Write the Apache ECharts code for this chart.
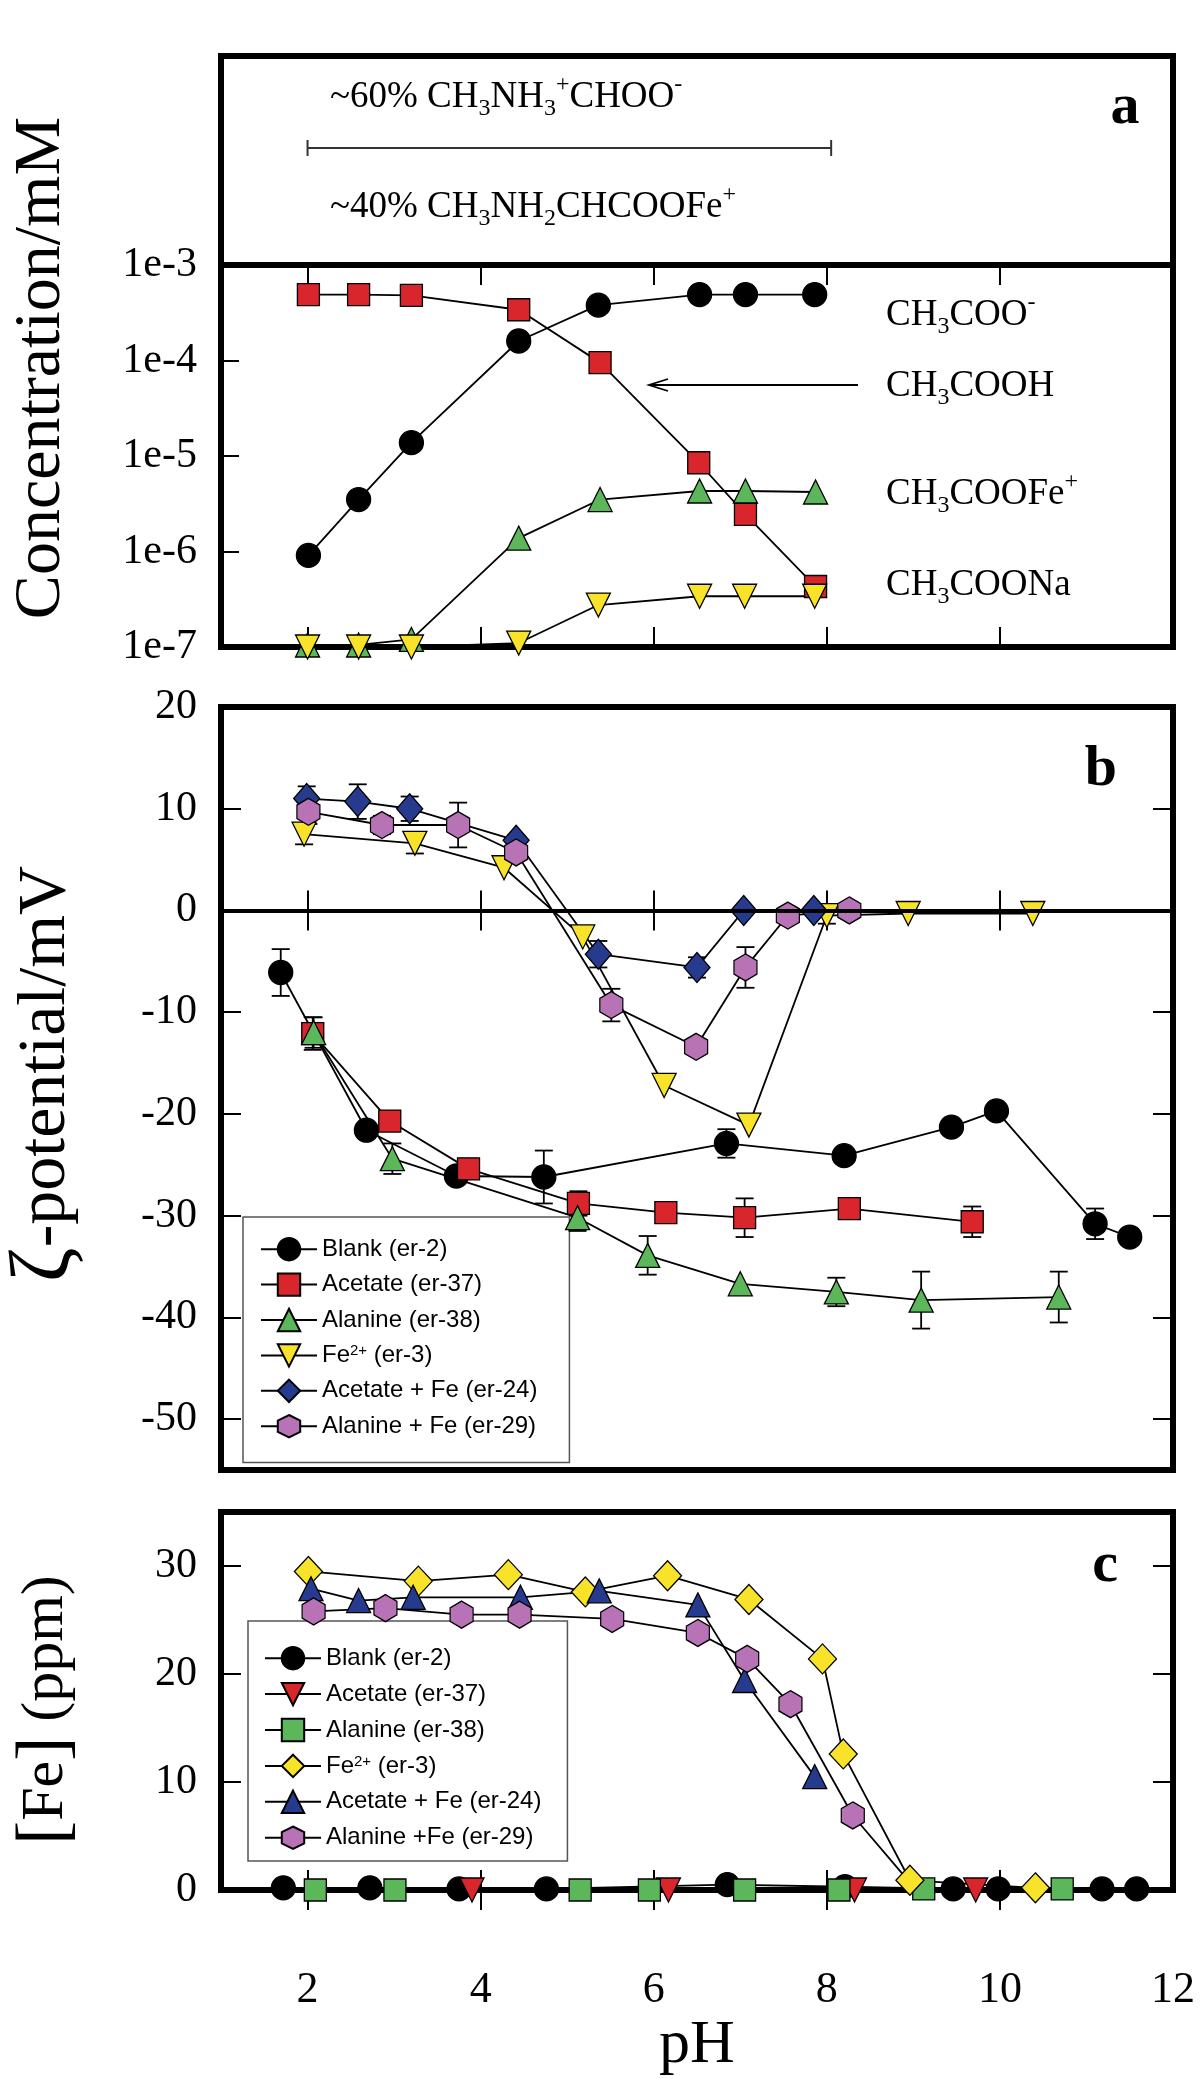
<!DOCTYPE html>
<html><head><meta charset="utf-8">
<script src="https://cdn.jsdelivr.net/npm/echarts@6/dist/echarts.min.js"></script>
<style>html,body{margin:0;padding:0;background:#fff}#c{width:1200px;height:2079px}</style>
</head><body><div id="c"></div><script>
// ---------------- DATA ----------------
const xTickValues = [2, 4, 6, 8, 10];
const xLabelValues = [2, 4, 6, 8, 10, 12];
const bLabelValues = [-50, -40, -30, -20, -10, 0, 10, 20];
const cLabelValues = [0, 10, 20, 30];

// panel a : species concentration (mM) vs pH
const aCH3COOH = [[2.01,4.9e-4],[2.59,4.9e-4],[3.20,4.8e-4],[4.44,3.4e-4],[5.38,9.5e-5],[6.52,8.5e-6],[7.06,2.45e-6],[7.87,4.3e-7]];
const aCH3COO  = [[2.01,9.1e-7],[2.59,3.5e-6],[3.20,1.38e-5],[4.44,1.6e-4],[5.36,3.8e-4],[6.53,4.9e-4],[7.06,4.9e-4],[7.86,4.9e-4]];
const aCH3COOFe = [[2.00,1.05e-7],[2.59,1.05e-7],[3.20,1.2e-7],[4.44,1.38e-6],[5.38,3.5e-6],[6.53,4.3e-6],[7.06,4.3e-6],[7.87,4.2e-6]];
const aCH3COONa = [[2.00,1.0e-7],[2.59,1.0e-7],[3.20,1.0e-7],[4.44,1.1e-7],[5.36,2.75e-7],[6.53,3.4e-7],[7.05,3.4e-7],[7.86,3.4e-7]];
const boxBracket = [2.0, 8.05];

// panel b : zeta potential (mV) vs pH ; errors as [pH, value, half-width]
const bBlank = [[1.69,-6.1],[2.68,-21.6],[3.72,-26.1],[4.73,-26.2],[6.84,-22.9],[8.20,-24.1],[9.44,-21.3],[9.96,-19.7],[11.10,-30.8],[11.50,-32.1]];
const bBlankErr = [[1.69,-6.1,2.3],[4.73,-26.2,2.6],[6.84,-22.9,1.4],[8.20,-24.1,0.6],[11.10,-30.8,1.5]];
const bAcetate = [[2.06,-12.1],[2.95,-20.7],[3.86,-25.4],[5.13,-28.8],[6.14,-29.7],[7.05,-30.2],[8.26,-29.3],[9.68,-30.6]];
const bAcetateErr = [[2.06,-12.1,1.6],[2.95,-20.7,0.6],[3.86,-25.4,1.0],[5.13,-28.8,1.2],[7.05,-30.2,1.9],[8.26,-29.3,0.7],[9.68,-30.6,1.5]];
const bAlanine = [[2.07,-12.0],[2.98,-24.4],[5.12,-30.2],[5.93,-33.9],[7.00,-36.7],[8.11,-37.5],[9.09,-38.3],[10.68,-38.0]];
const bAlanineErr = [[2.07,-12.0,1.5],[2.98,-24.4,1.5],[5.12,-30.2,1.3],[5.93,-33.9,1.9],[8.11,-37.5,1.4],[9.09,-38.3,2.8],[10.68,-38.0,2.5]];
const bFe = [[1.96,7.5],[3.24,6.6],[4.27,4.2],[5.18,-2.6],[6.12,-17.2],[7.10,-21.1],[8.00,-0.5],[8.94,-0.3],[10.38,-0.3]];
const bFeErr = [[1.96,7.5,1.0],[3.24,6.6,1.0],[8.00,-0.5,0.8]];
const bAcetateFe = [[1.99,11.0],[2.58,10.7],[3.18,10.0],[4.41,6.9],[5.36,-4.3],[6.50,-5.6],[7.04,0],[7.85,0]];
const bAcetateFeErr = [[1.99,11.0,1.2],[2.58,10.7,1.7],[3.18,10.0,1.2],[4.41,6.9,0.5],[5.36,-4.3,1.3],[6.50,-5.6,1.0]];
const bAlanineFe = [[2.01,9.7],[2.86,8.4],[3.74,8.4],[4.41,5.7],[5.51,-9.3],[6.49,-13.4],[7.06,-5.6],[7.55,-0.5],[8.26,0]];
const bAlanineFeErr = [[2.01,9.7,1.2],[2.86,8.4,0.9],[3.74,8.4,2.2],[5.51,-9.3,1.6],[7.06,-5.6,2.0]];

// panel c : dissolved Fe (ppm) vs pH
const cBlank = [[1.72,0.2],[2.72,0.2],[3.75,0.1],[4.76,0.1],[6.85,0.5],[8.21,0.3],[9.46,0.1],[9.98,0.1],[11.18,0.1],[11.58,0.1]];
const cAcetate = [[3.90,0],[6.17,0],[8.32,0],[9.72,0]];
const cAlanine = [[2.09,0],[3.01,0],[5.15,0],[5.95,0],[7.05,0],[8.14,0],[9.12,0.1],[10.72,0.1]];
const cFe = [[2.01,29.5],[3.28,28.6],[4.32,29.2],[5.21,27.6],[6.16,29.1],[7.10,26.9],[7.95,21.4],[8.19,12.6],[8.96,0.9],[10.41,0.2]];
const cAcetateFe = [[2.04,27.9],[2.59,26.8],[3.22,27.1],[4.46,27.1],[5.37,27.7],[6.51,26.4],[7.05,19.4],[7.86,10.5]];
const cAlanineFe = [[2.07,25.8],[2.90,26.1],[3.78,25.5],[4.45,25.5],[5.52,25.1],[6.51,23.8],[7.08,21.4],[7.58,17.2],[8.30,6.9],[8.98,0.5]];

const bNames = ['Blank (er-2)','Acetate (er-37)','Alanine (er-38)','Fe2+ (er-3)','Acetate + Fe (er-24)','Alanine + Fe (er-29)'];
const cNames = ['Blank (er-2) ','Acetate (er-37) ','Alanine (er-38) ','Fe2+ (er-3) ','Acetate + Fe (er-24) ','Alanine +Fe (er-29)'];

// ---------------- STYLE ----------------
const SERIF = 'Liberation Serif';
const SANS = 'Liberation Sans';
const RED = '#d8262c', GREEN = '#5cb65a', YELLOW = '#f9e22a', BLUE = '#263a8e', PINK = '#b873b6', BLACK = '#000';
const HEX = 'path://M0,-1L0.866,-0.5L0.866,0.5L0,1L-0.866,0.5L-0.866,-0.5Z';

const G = [
  {left:221, right:27, top:56, height:209},
  {left:221, right:27, top:265, height:382},
  {left:221, right:27, top:707, height:763},
  {left:221, right:27, top:1512, height:378}
].map(g => Object.assign(g, {show:true, borderWidth:6, borderColor:'#000', backgroundColor:'transparent', containLabel:false}));

const tickStyle = {show:true, inside:true, length:20, lineStyle:{color:'#000', width:2}};
function xAx(gi, pos, labels) {
  return {type:'value', gridIndex:gi, position:pos, min:1, max:12,
    axisLine:{show:false}, splitLine:{show:false},
    axisTick:Object.assign({customValues:xTickValues}, tickStyle),
    axisLabel:{show:labels, customValues:xLabelValues, margin:78, color:'#000', fontFamily:SERIF, fontSize:44}};
}
function yAx(gi, pos, min, max, labelVals, labels) {
  return {type:'value', gridIndex:gi, position:pos, min:min, max:max,
    axisLine:{show:false}, splitLine:{show:false},
    axisTick:Object.assign({customValues:labelVals}, tickStyle),
    axisLabel:{show:labels, customValues:labelVals, margin:24, color:'#000', fontFamily:SERIF, fontSize:42}};
}

function lineS(name, data, xi, yi, sym, color, size, rot) {
  return {type:'line', name:name, data:data, xAxisIndex:xi, yAxisIndex:yi,
    symbol:sym, symbolSize:size, symbolRotate:rot || 0, showAllSymbol:true, clip:false,
    lineStyle:{color:'#000', width:1.8}, itemStyle:{color:color, borderColor:'#000', borderWidth:1.3, opacity:1},
    emphasis:{disabled:true}, silent:true, animation:false};
}
function errS(data, xi, yi) {
  return {type:'custom', data:data, xAxisIndex:xi, yAxisIndex:yi, silent:true, clip:false, animation:false,
    encode:{x:0, y:1},
    renderItem:function(params, api){
      const x = api.value(0), v = api.value(1), e = api.value(2);
      const p1 = api.coord([x, v + e]), p2 = api.coord([x, v - e]);
      const w = 9, st = {stroke:'#000', lineWidth:1.8};
      return {type:'group', children:[
        {type:'line', shape:{x1:p1[0], y1:p1[1], x2:p2[0], y2:p2[1]}, style:st},
        {type:'line', shape:{x1:p1[0]-w, y1:p1[1], x2:p1[0]+w, y2:p1[1]}, style:st},
        {type:'line', shape:{x1:p2[0]-w, y1:p2[1], x2:p2[0]+w, y2:p2[1]}, style:st}
      ]};
    }};
}

const xAxes = [
  Object.assign(xAx(0,'bottom',false), {show:false}),
  xAx(1,'bottom',false), xAx(1,'top',false),
  xAx(2,'bottom',false), xAx(2,'top',false),
  xAx(3,'bottom',true), xAx(3,'top',false)
];
const yAxes = [
  {type:'value', gridIndex:0, min:0, max:1, show:false},
  {type:'log', gridIndex:1, logBase:10, min:1e-7, max:1e-3, position:'left',
    axisLine:{show:false}, splitLine:{show:false}, minorTick:{show:false},
    axisTick:Object.assign({}, tickStyle, {length:18}),
    axisLabel:{margin:24, color:'#000', fontFamily:SERIF, fontSize:42,
      formatter:function(v){ return '1e' + Math.round(Math.log10(v)); }}},
  yAx(2,'left',-55,20,bLabelValues,true), yAx(2,'right',-55,20,bLabelValues,false),
  yAx(3,'left',0,35,cLabelValues,true), yAx(3,'right',0,35,cLabelValues,false)
];

// last Alanine+Fe point sits under the Fe2+ diamond: keep its line, hide its marker
const cAlanineFeData = cAlanineFe.map((p, i) => i === cAlanineFe.length - 1 ? {value:p, symbol:'none'} : p);

const series = [
  // box bracket
  {type:'line', data:boxBracket.map(x => [x, 0.56]), xAxisIndex:0, yAxisIndex:0, symbol:'rect', symbolSize:[2,16],
    lineStyle:{color:'#333', width:2}, itemStyle:{color:'#333'}, silent:true, animation:false},
  // panel a
  lineS('a1', aCH3COO, 1, 1, 'circle', BLACK, 24),
  lineS('a2', aCH3COOH, 1, 1, 'rect', RED, 22),
  lineS('a3', aCH3COOFe, 1, 1, 'triangle', GREEN, 24),
  lineS('a4', aCH3COONa, 1, 1, 'triangle', YELLOW, 24, 180),
  // panel b error bars
  errS(bBlankErr, 3, 2), errS(bAcetateErr, 3, 2), errS(bAlanineErr, 3, 2),
  errS(bFeErr, 3, 2), errS(bAcetateFeErr, 3, 2), errS(bAlanineFeErr, 3, 2),
  // panel b
  Object.assign(lineS(bNames[0], bBlank, 3, 2, 'circle', BLACK, 24), {
    markLine:{silent:true, symbol:'none', animation:false, label:{show:false},
      lineStyle:{color:'#000', width:4, type:'solid'}, data:[{yAxis:0}]}}),
  lineS(bNames[1], bAcetate, 3, 2, 'rect', RED, 22),
  lineS(bNames[2], bAlanine, 3, 2, 'triangle', GREEN, 24),
  lineS(bNames[3], bFe, 3, 2, 'triangle', YELLOW, 24, 180),
  lineS(bNames[4], bAcetateFe, 3, 2, 'diamond', BLUE, [26,30]),
  lineS(bNames[5], bAlanineFe, 3, 2, HEX, PINK, [23,27]),
  // panel c
  lineS(cNames[0], cBlank, 5, 4, 'circle', BLACK, 24),
  lineS(cNames[1], cAcetate, 5, 4, 'triangle', RED, 24, 180),
  lineS(cNames[2], cAlanine, 5, 4, 'rect', GREEN, 22),
  lineS(cNames[3], cFe, 5, 4, 'diamond', YELLOW, [28,30]),
  lineS(cNames[4], cAcetateFe, 5, 4, 'triangle', BLUE, 24),
  lineS(cNames[5], cAlanineFeData, 5, 4, HEX, PINK, [23,27])
];

const legRich = {
  t:{fontFamily:SANS, fontSize:24, color:'#000'},
  u:{fontFamily:SANS, fontSize:15, color:'#000', verticalAlign:'top', lineHeight:15}
};
function legFmt(name) {
  const n = name.trim();
  if (n.indexOf('Fe2+') === 0) return '{t|Fe}{u|2+}{t| ' + n.slice(5) + '}';
  return '{t|' + n + '}';
}
function legend(names, top, left, gap, pad) {
  return {data:names, orient:'vertical', left:left, top:top, itemWidth:56, itemHeight:28, itemGap:gap,
    padding:pad, borderColor:'#555', borderWidth:1.5, backgroundColor:'#fff', selectedMode:false, z:1,
    formatter:legFmt, textStyle:{fontFamily:SANS, fontSize:24, color:'#000', rich:legRich}};
}

const R = {
  m:{fontFamily:SERIF, fontSize:37, lineHeight:48, color:'#000'},
  s:{fontFamily:SERIF, fontSize:24, lineHeight:24, verticalAlign:'bottom', color:'#000'},
  p:{fontFamily:SERIF, fontSize:24, lineHeight:24, verticalAlign:'top', color:'#000'}
};
function txt(x, y, text) {
  return {type:'text', x:x, y:y, silent:true,
    style:{text:text, rich:R, align:'left', verticalAlign:'middle', fill:'#000', font:"37px 'Liberation Serif'"}};
}
function title(x, y, text, rich, fs) {
  return {type:'text', x:x, y:y, rotation:Math.PI/2, silent:true,
    style:{text:text, rich:rich, align:'center', verticalAlign:'middle', fill:'#000', font:fs + "px 'Liberation Serif'"}};
}
function letter(x, y, t) {
  return {type:'text', x:x, y:y, silent:true,
    style:{text:t, align:'center', verticalAlign:'middle', fill:'#000', font:"bold 58px 'Liberation Serif'"}};
}

const graphic = [
  txt(330, 97, '{m|~60% CH}{s|3}{m|NH}{s|3}{p|+}{m|CHOO}{p|-}'),
  txt(330, 207, '{m|~40% CH}{s|3}{m|NH}{s|2}{m|CHCOOFe}{p|+}'),
  txt(886, 315, '{m|CH}{s|3}{m|COO}{p|-}'),
  txt(886, 386, '{m|CH}{s|3}{m|COOH}'),
  txt(886, 494, '{m|CH}{s|3}{m|COOFe}{p|+}'),
  txt(886, 585, '{m|CH}{s|3}{m|COONa}'),
  {type:'polyline', silent:true, shape:{points:[[858,385],[649,385]]}, style:{stroke:'#000', lineWidth:1.8}},
  {type:'polyline', silent:true, shape:{points:[[668,379],[649,385],[668,391]]}, style:{stroke:'#000', lineWidth:1.8, fill:null}},
  letter(1125, 108, 'a'), letter(1101, 770, 'b'), letter(1105, 1566, 'c'),
  title(42, 368, 'Concentration/mM', {}, 66),
  title(46, 1074, '{z|ζ}{r|-potential/mV}', {z:{fontFamily:SERIF, fontSize:84, color:'#000'}, r:{fontFamily:SERIF, fontSize:68, color:'#000'}}, 68),
  title(46, 1710, '{b|[}{r|Fe}{b|]}{r| (ppm)}', {b:{fontFamily:SERIF, fontSize:72, color:'#000'}, r:{fontFamily:SERIF, fontSize:60, color:'#000'}}, 60),
  {type:'text', x:697, y:2046, silent:true, style:{text:'pH', align:'center', verticalAlign:'middle', fill:'#000', font:"62px 'Liberation Serif'"}}
];

const chart = echarts.init(document.getElementById('c'), null, {renderer:'canvas', width:1200, height:2079});
chart.setOption({
  animation:false,
  backgroundColor:'#fff',
  grid:G, xAxis:xAxes, yAxis:yAxes, series:series,
  legend:[legend(bNames, 1217, 243, 11, [20,32,24,17]), legend(cNames, 1621, 248, 11.5, [25,26,11,16])],
  graphic:graphic
});
</script></body></html>
